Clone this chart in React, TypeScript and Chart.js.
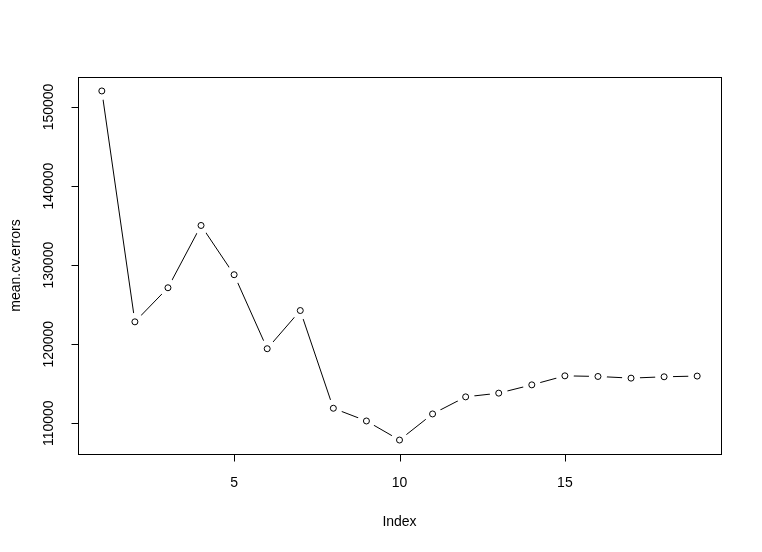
import React, { useEffect, useRef } from "react";
import { Chart, registerables } from "chart.js";

Chart.register(...registerables);

// ---- data ----
const indexValues = [1, 2, 3, 4, 5, 6, 7, 8, 9, 10, 11, 12, 13, 14, 15, 16, 17, 18, 19];
const meanCvErrors = [
  152030, 122830, 127140, 135020, 128790, 119430, 124260, 111900, 110290, 107880,
  111180, 113340, 113810, 114860, 116000, 115920, 115710, 115880, 115970,
];
const xTicks = [5, 10, 15];
const yTicks = [110000, 120000, 130000, 140000, 150000];
const xLabel = "Index";
const yLabel = "mean.cv.errors";

const FONT = '"Liberation Sans", Arial, sans-serif';

function rRange(vals: number[]) {
  const lo = Math.min(...vals);
  const hi = Math.max(...vals);
  const ext = (hi - lo) * 0.04;
  return [lo - ext, hi + ext];
}

// R type="b": line segments stop short of each point symbol
const gapPlugin = {
  id: "typeBGaps",
  afterDatasetsDraw(chart: any) {
    const { ctx, chartArea } = chart;
    const meta = chart.getDatasetMeta(0);
    ctx.save();
    ctx.fillStyle = "#ffffff";
    for (const el of meta.data) {
      const p = el.getProps ? el.getProps(["x", "y"], true) : el;
      ctx.beginPath();
      ctx.arc(p.x, p.y, 9, 0, Math.PI * 2);
      ctx.fill();
    }
    ctx.restore();
    for (const el of meta.data) {
      el.draw(ctx, chartArea);
    }
  },
};

const rPlotPlugin = {
  id: "rPlotFrame",
  afterDraw(chart: any) {
    const { ctx, chartArea: a, scales } = chart;
    const L = Math.round(a.left) + 0.5;
    const T = Math.round(a.top) + 0.5;
    const R = Math.round(a.right) + 0.5;
    const B = Math.round(a.bottom) + 0.5;
    ctx.save();
    ctx.strokeStyle = "#000";
    ctx.lineWidth = 1;
    ctx.strokeRect(L, T, R - L, B - T);
    ctx.beginPath();
    for (const v of xTicks) {
      const x = Math.round(scales.x.getPixelForValue(v)) + 0.5;
      ctx.moveTo(x, B);
      ctx.lineTo(x, B + 7);
    }
    for (const v of yTicks) {
      const y = Math.round(scales.y.getPixelForValue(v)) + 0.5;
      ctx.moveTo(L, y);
      ctx.lineTo(L - 7, y);
    }
    ctx.stroke();
    ctx.fillStyle = "#000";
    ctx.font = `14px ${FONT}`;
    ctx.textAlign = "center";
    ctx.textBaseline = "middle";
    for (const v of xTicks) {
      ctx.fillText(String(v), scales.x.getPixelForValue(v), 483);
    }
    ctx.fillText(xLabel, (a.left + a.right) / 2, 522);
    for (const v of yTicks) {
      const y = scales.y.getPixelForValue(v);
      ctx.save();
      ctx.translate(49, y);
      ctx.rotate(-Math.PI / 2);
      ctx.fillText(String(v), 0, 0);
      ctx.restore();
    }
    ctx.save();
    ctx.translate(16, (a.top + a.bottom) / 2);
    ctx.rotate(-Math.PI / 2);
    ctx.fillText(yLabel, 0, 0);
    ctx.restore();
    ctx.restore();
  },
};

export default function App() {
  const ref = useRef<HTMLCanvasElement | null>(null);

  useEffect(() => {
    if (!ref.current) return;
    const [xMin, xMax] = rRange(indexValues);
    const [yMin, yMax] = rRange(meanCvErrors);
    const chart = new Chart(ref.current, {
      type: "line",
      data: {
        datasets: [
          {
            label: yLabel,
            data: indexValues.map((x, i) => ({ x, y: meanCvErrors[i] })),
            borderColor: "#000",
            borderWidth: 1,
            tension: 0,
            fill: false,
            pointRadius: 3,
            pointBorderWidth: 1,
            pointBorderColor: "#000",
            pointBackgroundColor: "rgba(0,0,0,0)",
          },
        ],
      },
      options: {
        animation: false,
        responsive: false,
        devicePixelRatio: 1,
        layout: { padding: { left: 78, top: 77, right: 41, bottom: 98 } },
        scales: {
          x: { type: "linear", min: xMin, max: xMax, display: false },
          y: { type: "linear", min: yMin, max: yMax, display: false },
        },
        plugins: {
          legend: { display: false },
          tooltip: { enabled: false },
        },
        events: [],
      },
      plugins: [gapPlugin, rPlotPlugin],
    });
    return () => chart.destroy();
  }, []);

  return (
    <div style={{ position: "absolute", left: 0, top: 0, width: 762, height: 552, background: "#fff" }}>
      <canvas ref={ref} width={762} height={552} style={{ width: 762, height: 552, display: "block" }} />
    </div>
  );
}
